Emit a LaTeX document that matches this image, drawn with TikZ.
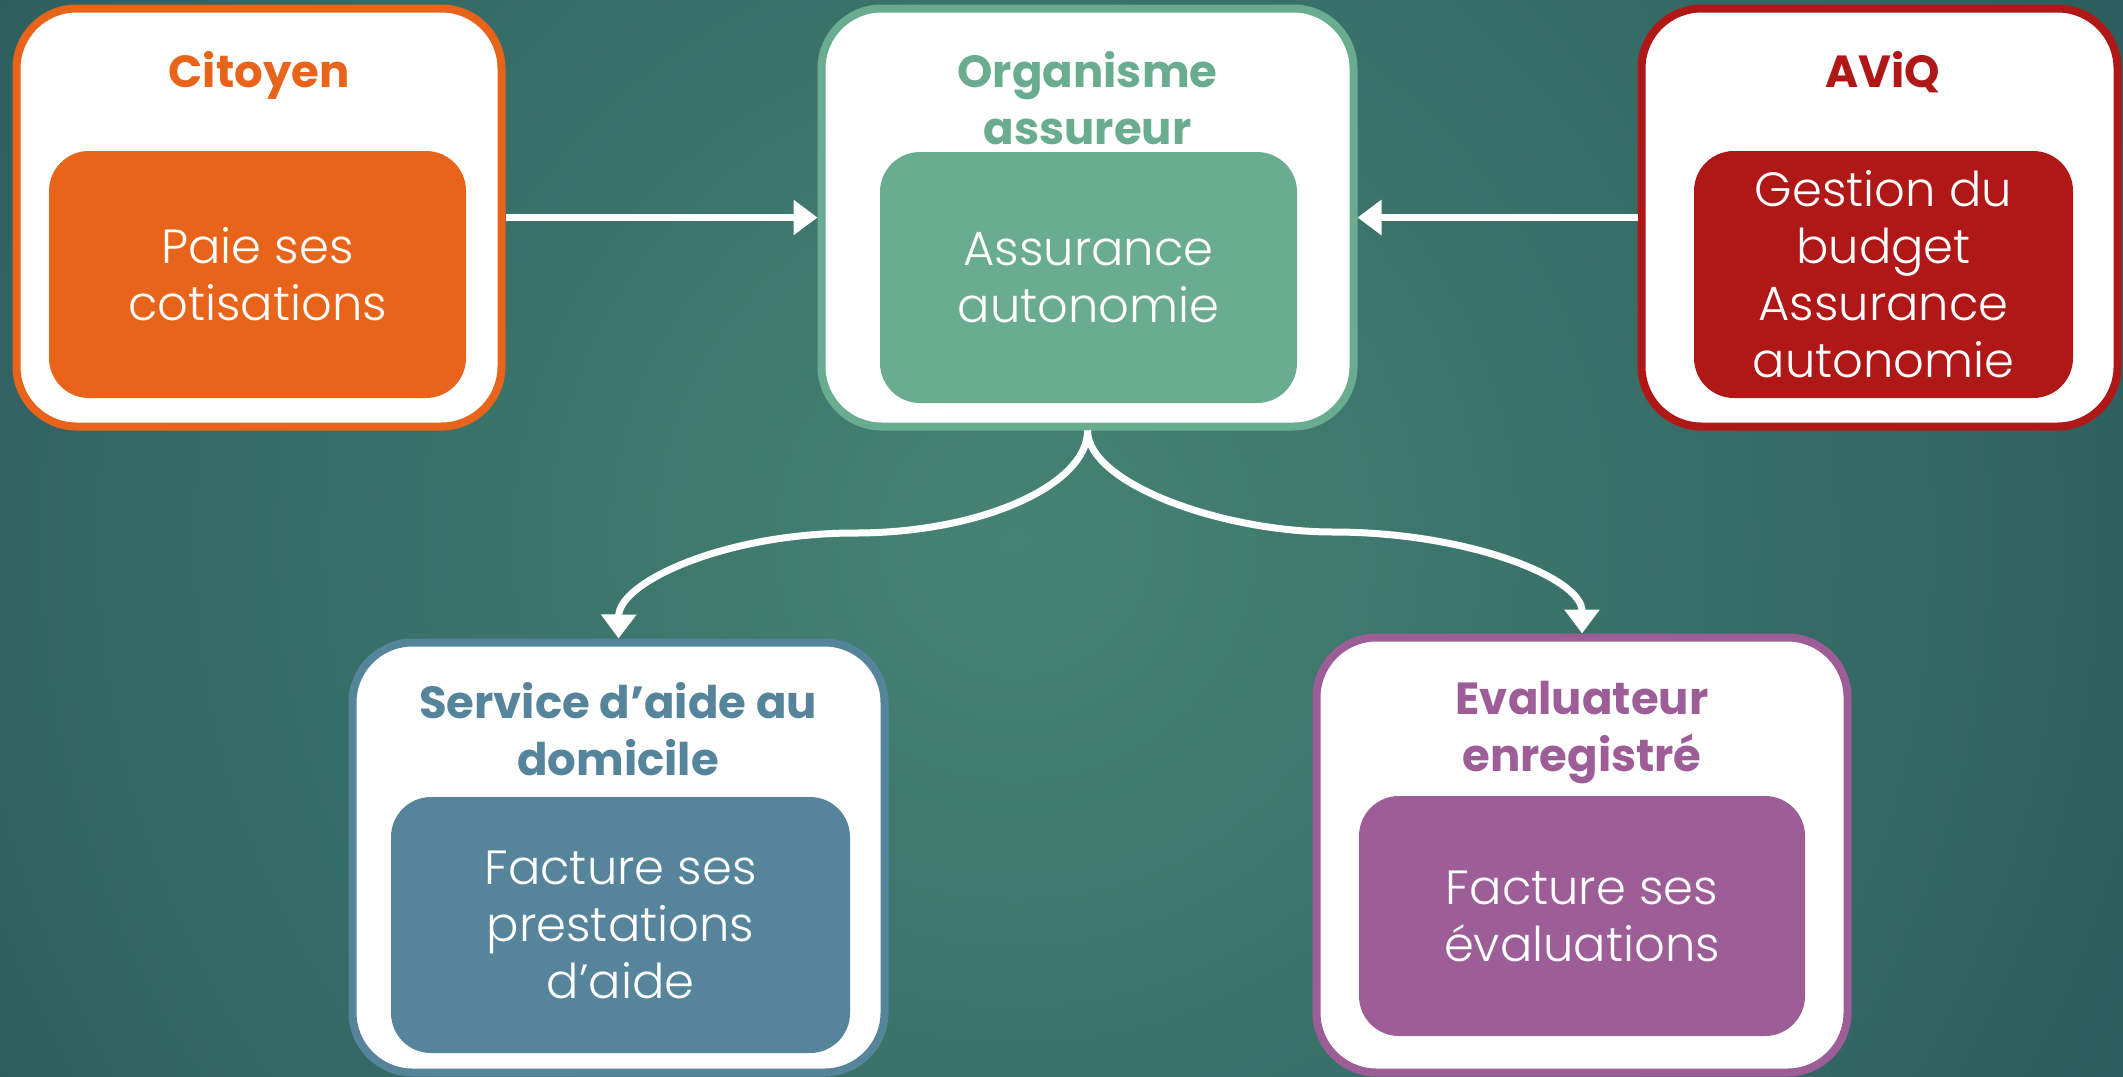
\documentclass[tikz,border=0pt]{standalone}
\usepackage{fontspec}
\setmainfont{Poppins}[UprightFont={* Light}, BoldFont={* Bold}]
\usetikzlibrary{arrows.meta}
\definecolor{cOrange}{HTML}{E8641A}
\definecolor{cGreen}{HTML}{6AAC8F}
\definecolor{cRed}{HTML}{B01717}
\definecolor{cBlue}{HTML}{55849B}
\definecolor{cPurple}{HTML}{9D5E98}
\definecolor{bgIn}{HTML}{468374}
\definecolor{bgOut}{HTML}{1C4550}
\begin{document}
\begin{tikzpicture}[x=0.5pt,y=-0.5pt,
  outerbox/.style={draw=#1, fill=white, line width=4pt, rounded corners=30pt, inner sep=0pt},
  innerbox/.style={fill=#1, rounded corners=20pt, text=white, align=center, inner sep=0pt, font=\fontsize{24}{28.5}\selectfont},
  titletext/.style={text=#1, align=center, inner sep=0pt, anchor=base, font=\fontsize{22.5}{28.5}\selectfont\bfseries},
  flow/.style={draw=white, line width=3.5pt, -{Triangle[length=12pt,width=17pt]}}
]
\begin{scope}
\clip (0,0) rectangle (2123,1076);
\shade[inner color=bgIn, outer color=bgOut] (1015,540) circle (2000);
\end{scope}
\useasboundingbox (0,0) rectangle (2123,1076);

\node[outerbox=cOrange, minimum width=242.5pt, minimum height=209pt] (cit) at (259,217.5) {};
\node[outerbox=cGreen, minimum width=266pt, minimum height=209pt] (org) at (1087.5,217.5) {};
\node[outerbox=cRed, minimum width=238pt, minimum height=209pt] (avq) at (1879.5,217.5) {};
\node[outerbox=cBlue, minimum width=266pt, minimum height=215pt] (svc) at (618.5,857.5) {};
\node[outerbox=cPurple, minimum width=265.5pt, minimum height=217.5pt] (eva) at (1582,855) {};

\node[innerbox=cOrange, minimum width=208.5pt, minimum height=123.5pt] (citI) at (257.5,274.5) {Paie ses\\cotisations};
\node[innerbox=cGreen, minimum width=208.5pt, minimum height=125.5pt] (orgI) at (1088.5,277.5) {Assurance\\autonomie};
\node[innerbox=cRed, minimum width=189.5pt, minimum height=123.5pt] (avqI) at (1883.5,274.5) {Gestion du\\budget\\Assurance\\autonomie};
\node[innerbox=cBlue, minimum width=229.5pt, minimum height=128pt] (svcI) at (620.5,925) {Facture ses\\prestations\\d’aide};
\node[innerbox=cPurple, minimum width=223pt, minimum height=120pt] (evaI) at (1582,916) {Facture ses\\évaluations};

\node[titletext=cOrange] (citT) at (259,87) {Citoyen};
\node[titletext=cGreen] (orgT) at (1087.5,144) {Organisme\\assureur};
\node[titletext=cRed] (avqT) at (1883,87) {AViQ};
\node[titletext=cBlue] (svcT) at (618,775) {Service d’aide au\\domicile};
\node[titletext=cPurple] (evaT) at (1582,771) {Evaluateur\\enregistré};

\draw[flow] (cit.east) -- (org.west);
\draw[flow] (avq.west) -- (org.east);
\draw[flow] (org.south) .. controls (1088,484) and (983,533) .. (855,533) .. controls (725,533) and (619,582) .. (svc.north);
\draw[flow] (org.south) .. controls (1088,484) and (1223,532) .. (1333,532) .. controls (1468,532) and (1582,578) .. (eva.north);
\end{tikzpicture}
\end{document}
